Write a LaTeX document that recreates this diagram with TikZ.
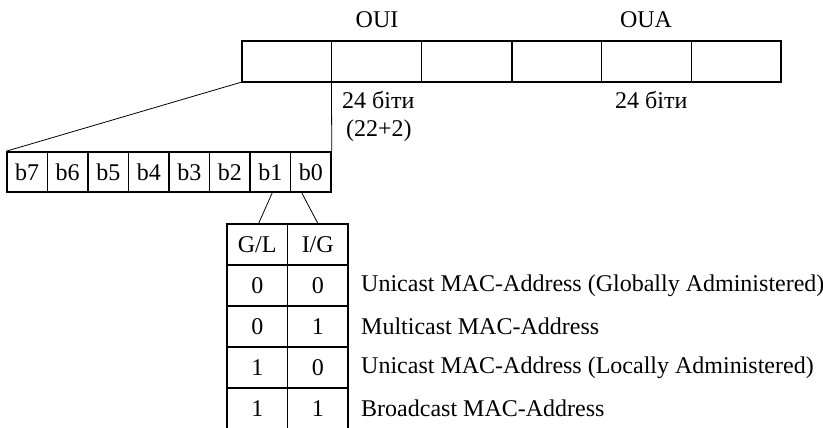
\documentclass[tikz,border=0pt]{standalone}
\usepackage{fontspec}
\setmainfont{Liberation Serif}
\usetikzlibrary{positioning}

\begin{document}
\begin{tikzpicture}[x=1pt, y=-1pt,
		font=\fontsize{24}{29}\selectfont,
		octcell/.style={draw, line width=0.8pt, minimum width=89.8pt, minimum height=40pt, inner sep=0pt},
		bitcell/.style={draw, line width=1.6pt, minimum width=40.5pt, minimum height=40pt, inner sep=0pt},
		flagcell/.style={draw, line width=1.6pt, minimum width=60.5pt, minimum height=41pt, inner sep=0pt},
		label/.style={inner sep=0pt},
		heavy/.style={line width=2pt},
		link/.style={line width=0.8pt}]
		%%%%% START %%%%%
		
		\useasboundingbox (0, 0) rectangle (823, 428);
		\clip (0, 0) rectangle (823, 428);
		
		% address octets
		\node[octcell] (oct1) at (286.9, 61.7) {};
		\node[octcell] (oct2) at (376.7, 61.7) {};
		\node[octcell] (oct3) at (466.6, 61.7) {};
		\node[octcell] (oct4) at (556.4, 61.7) {};
		\node[octcell] (oct5) at (646.2, 61.7) {};
		\node[octcell] (oct6) at (736.1, 61.7) {};
		\draw[heavy] (oct1.north west) rectangle (oct6.south east);
		\draw[heavy] (oct3.north east) -- (oct3.south east);
		
		\node[label] (oui) at (377, 20) {OUI};
		\node[label] (oua) at (646, 20) {OUA};
		\node[label, anchor=west] (ouibits) at (342, 100) {24 біти};
		\node[label, anchor=west] (ouisplit) at (346, 131) {(22+2)};
		\node[label, anchor=west] (ouabits) at (615, 100) {24 біти};
		
		% bits of the first octet
		\node[bitcell] (b7) at (27.25, 172) {b7};
		\node[bitcell] (b6) at (67.75, 172) {b6};
		\node[bitcell] (b5) at (108.25, 172) {b5};
		\node[bitcell] (b4) at (148.75, 172) {b4};
		\node[bitcell] (b3) at (189.25, 172) {b3};
		\node[bitcell] (b2) at (229.75, 172) {b2};
		\node[bitcell] (b1) at (270.25, 172) {b1};
		\node[bitcell] (b0) at (310.75, 172) {b0};
		
		\draw[link] (oct1.south west) -- (b7.north west);
		\draw[link] (oct2.south west) -- (b0.north east);
		
		% flag table
		\node[flagcell] (gl) at (257.25, 244.5) {G/L};
		\node[flagcell] (ig) at (317.75, 244.5) {I/G};
		\node[flagcell] (gla) at (257.25, 285.5) {0};
		\node[flagcell] (iga) at (317.75, 285.5) {0};
		\node[flagcell] (glb) at (257.25, 326.5) {0};
		\node[flagcell] (igb) at (317.75, 326.5) {1};
		\node[flagcell] (glc) at (257.25, 367.5) {1};
		\node[flagcell] (igc) at (317.75, 367.5) {0};
		\node[flagcell] (gld) at (257.25, 408.5) {1};
		\node[flagcell] (igd) at (317.75, 408.5) {1};
		
		\draw[link] ([xshift=2pt]b1.south) -- ([xshift=1.5pt]gl.north);
		\draw[link] ([xshift=-9pt]b0.south) -- (ig.north);
		
		\node[label, anchor=west] (unig) at (361, 285.5) {Unicast MAC-Address (Globally Administered)};
		\node[label, anchor=west] (multi) at (361, 326.5) {Multicast MAC-Address};
		\node[label, anchor=west] (unil) at (361, 367.5) {Unicast MAC-Address (Locally Administered)};
		\node[label, anchor=west] (broad) at (361, 408.5) {Broadcast MAC-Address};
		
		%%%%% END %%%%%
\end{tikzpicture}
\end{document}
